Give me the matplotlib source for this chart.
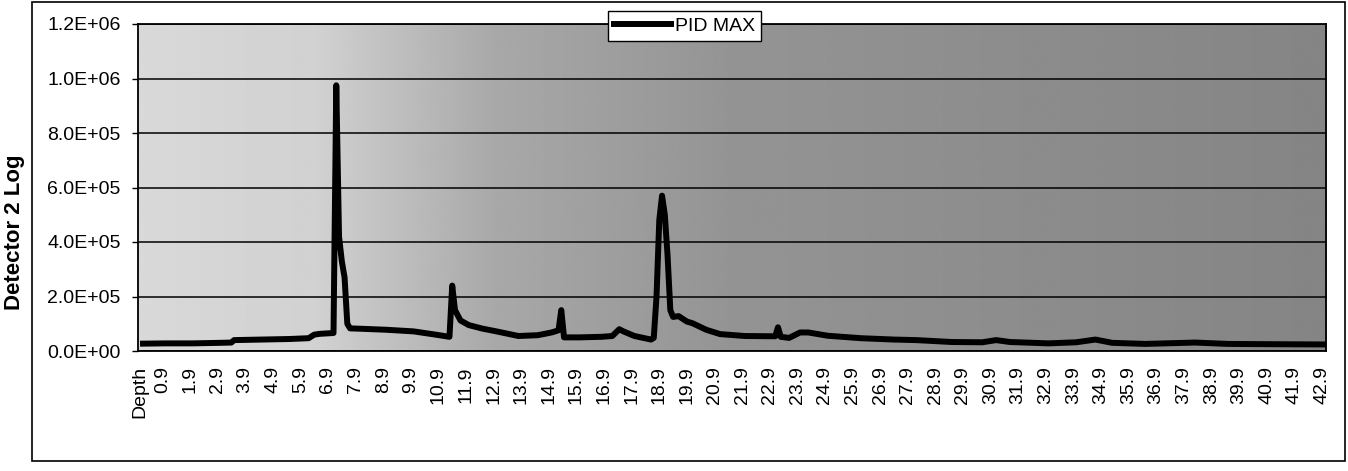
import numpy as np
import matplotlib
matplotlib.use('Agg')
import matplotlib.pyplot as plt
from matplotlib.patches import Rectangle

plt.rcParams['font.family'] = ['Liberation Sans', 'DejaVu Sans']

# PID MAX trace (depth, detector counts)
depth = [0.2, 1.0, 2.0, 3.0, 3.4, 3.5, 4.5, 5.5, 6.2, 6.4, 6.6, 7.1, 7.2, 7.3,
         7.4, 7.5, 7.6, 7.7, 8.0, 9.0, 10.0, 10.8, 11.3, 11.4, 11.5, 11.7,
         12.0, 12.5, 13.0, 13.8, 14.5, 15.0, 15.25, 15.35, 15.45, 16.0, 16.8,
         17.2, 17.45, 17.6, 18.0, 18.6, 18.7, 18.8, 18.9, 19.0, 19.1, 19.2,
         19.3, 19.4, 19.6, 19.9, 20.1, 20.6, 21.1, 22.0, 23.1, 23.2, 23.3,
         23.6, 24.0, 24.3, 25.0, 26.2, 27.4, 28.2, 29.5, 30.6, 31.1, 31.6,
         33.0, 34.0, 34.7, 35.3, 36.5, 38.3, 39.5, 41.0, 43.0]
pid_max = [27e3, 28e3, 28e3, 30e3, 31e3, 40e3, 42e3, 44e3, 47e3, 60e3, 63e3,
           66e3, 975e3, 420e3, 330e3, 270e3, 100e3, 83e3, 82e3, 78e3, 72e3,
           60e3, 52e3, 240e3, 150e3, 112e3, 95e3, 82e3, 72e3, 55e3, 58e3,
           68e3, 76e3, 150e3, 50e3, 50e3, 52e3, 55e3, 80e3, 72e3, 55e3, 42e3,
           48e3, 200e3, 480e3, 570e3, 500e3, 350e3, 150e3, 125e3, 128e3,
           108e3, 102e3, 78e3, 62e3, 55e3, 54e3, 87e3, 52e3, 48e3, 68e3,
           68e3, 56e3, 47e3, 42e3, 40e3, 33e3, 32e3, 40e3, 33e3, 28e3, 32e3,
           42e3, 30e3, 26e3, 31e3, 26e3, 25e3, 24e3]

ytick_vals = [0, 2e5, 4e5, 6e5, 8e5, 1e6, 1.2e6]
ytick_labels = ['0.0E+00', '2.0E+05', '4.0E+05', '6.0E+05', '8.0E+05',
                '1.0E+06', '1.2E+06']
xtick_pos = [0.1] + [i + 0.9 for i in range(43)]
xtick_labels = ['Depth'] + ['{:.1f}'.format(i + 0.9) for i in range(43)]

W, H = 1348, 471
fig = plt.figure(figsize=(W / 100, H / 100), dpi=100)
# plot area in pixels
px0, px1, py0, py1 = 137.5, 1326, 24, 351
ax = fig.add_axes([px0 / W, 1 - py1 / H, (px1 - px0) / W, (py1 - py0) / H])

x0, x1 = 0.0, 43.05
# stippled backdrop, lighter on the left, darker to the right
xs = np.linspace(0, 1, 400)
shade = np.interp(xs, [0, 0.15, 0.3, 0.5, 1.0], [0.85, 0.82, 0.66, 0.58, 0.52])
ax.imshow(shade[np.newaxis, :], cmap='gray', vmin=0, vmax=1, aspect='auto',
          extent=[x0, x1, 0, 1.2e6], zorder=0, interpolation='bilinear')

ax.plot(depth, pid_max, color='black', lw=4.3, label='PID MAX', zorder=3)

ax.set_xlim(x0, x1)
ax.set_ylim(0, 1.2e6)
ax.set_axisbelow(True)
ax.grid(axis='y', color='black', lw=1.1)

ax.set_yticks(ytick_vals, ytick_labels)
ax.set_xticks(xtick_pos, xtick_labels, rotation=90)
ax.tick_params(axis='y', length=4, width=1, pad=8, labelsize=14)
ax.tick_params(axis='x', length=0, pad=11, labelsize=14)
for s in ax.spines.values():
    s.set_color('black')
    s.set_linewidth(1.3)

fig.text(15 / W, 1 - 232 / H, 'Detector 2 Log', rotation=90, fontweight='bold',
         fontsize=16, ha='center', va='center')

leg = ax.legend(loc='center', bbox_to_anchor=(684.5 / W, 1 - 26 / H),
                bbox_transform=fig.transFigure, frameon=True, fancybox=False,
                edgecolor='black', framealpha=1, handlelength=2.9,
                handletextpad=0.2, borderpad=0.3, fontsize=14)
leg.get_frame().set_linewidth(1.0)
leg.set_zorder(5)

# outer chart frame
fig.patches.append(Rectangle((32 / W, 1 - 461 / H), (1345 - 32) / W, (461 - 2) / H,
                             transform=fig.transFigure, fill=False,
                             ec='black', lw=1.2))

fig.savefig('out.png', dpi=100)
